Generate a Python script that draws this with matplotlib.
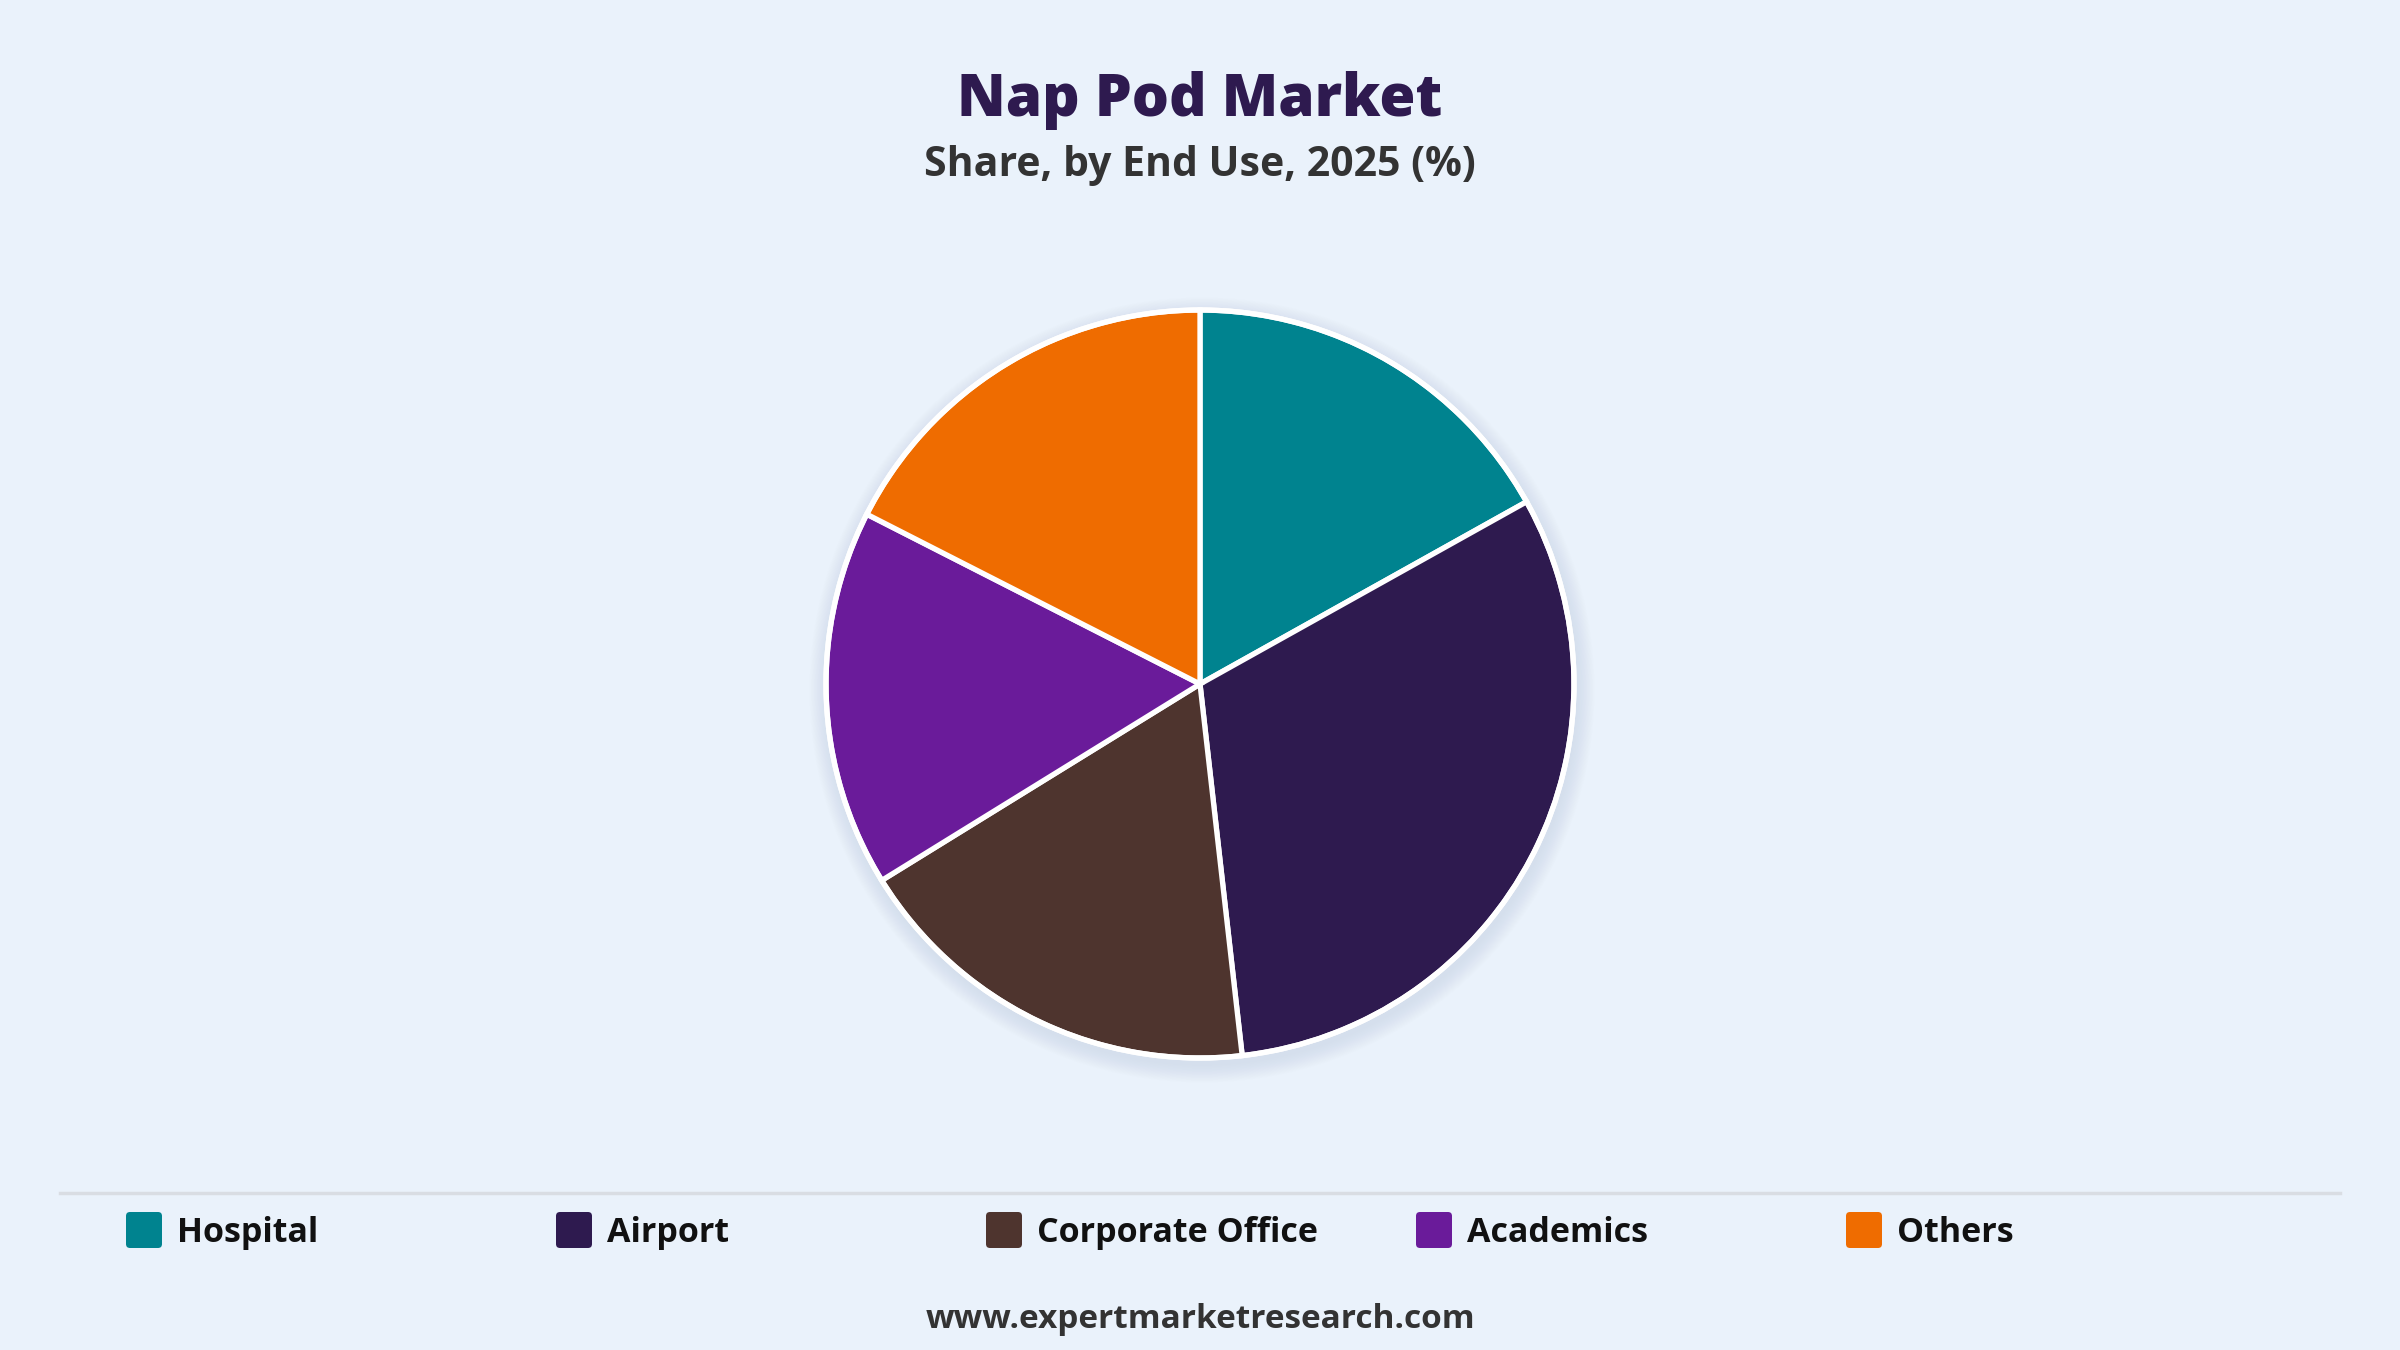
import numpy as np
import matplotlib.pyplot as plt
from matplotlib.patches import Circle, FancyBboxPatch

categories = ["Hospital", "Airport", "Corporate Office", "Academics", "Others"]
shares = [16.9, 31.3, 18.0, 16.3, 17.5]
colors = ["#00838F", "#2E1A4F", "#4E342E", "#6A1B9A", "#EF6C00"]

title = "Nap Pod Market"
subtitle = "Share, by End Use, 2025 (%)"
footer = "www.expertmarketresearch.com"

bg = "#EAF2FB"
W, H = 2400, 1350

plt.rcParams['font.family'] = ['Open Sans', 'DejaVu Sans']

fig = plt.figure(figsize=(24, 13.5), dpi=100, facecolor=bg)
ax = fig.add_axes([0, 0, 1, 1])
ax.set_xlim(0, W)
ax.set_ylim(0, H)
ax.set_aspect('equal')
ax.axis('off')

cx, cy, r = 1200, H - 684, 374

# soft shadow under the pie
for k in range(12):
    ax.add_patch(Circle((cx + 2, cy - 6), r + 2 + k * 1.5, facecolor="#9aa6b8",
                        edgecolor="none", alpha=0.016, zorder=1))

ax.pie(shares, colors=colors, startangle=90, counterclock=False,
       center=(cx, cy), radius=r, frame=True,
       wedgeprops=dict(edgecolor="white", linewidth=3.8, zorder=2))
ax.add_patch(Circle((cx, cy), r, facecolor="none", edgecolor="white", linewidth=3.8, zorder=3))
ax.set_xlim(0, W)
ax.set_ylim(0, H)
ax.axis('off')

fig.text(0.5, 1 - 100 / H, title, ha='center', va='center', fontsize=42,
         fontweight='heavy', color="#2E1A4F")
fig.text(0.5, 1 - 166 / H, subtitle, ha='center', va='center', fontsize=29.5,
         fontweight='bold', color="#333333")

# separator
ax.plot([60, 2340], [H - 1193, H - 1193], color="#D9DDE3", linewidth=2.5, zorder=1)

# legend
for i, (lab, col) in enumerate(zip(categories, colors)):
    x0 = 126 + i * 430
    y0 = H - 1248
    ax.add_patch(FancyBboxPatch((x0 + 4, y0 + 4), 28, 28,
                                boxstyle="round,pad=4", facecolor=col,
                                edgecolor="none", zorder=3))
    ax.text(x0 + 51, y0 + 15, lab, ha='left', va='center', fontsize=24.5,
            fontweight='bold', color="#111111")

fig.text(0.5, 1 - 1320 / H, footer, ha='center', va='center', fontsize=24,
         fontweight='bold', color="#333333")

plt.savefig("out.png", dpi=100, facecolor=bg)
